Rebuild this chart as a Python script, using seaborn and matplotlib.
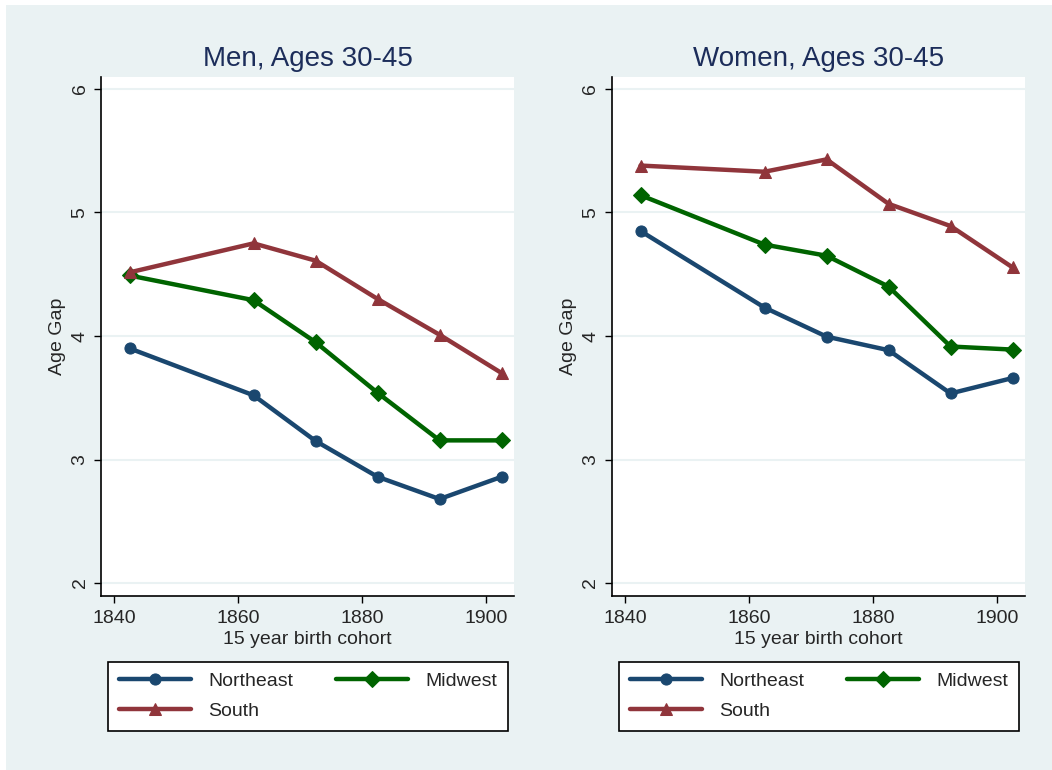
import pandas as pd
import seaborn as sns
import matplotlib.pyplot as plt
from matplotlib.patches import Rectangle

cohort = [1842.5, 1862.5, 1872.5, 1882.5, 1892.5, 1902.5]
regions = ["Northeast", "Midwest", "South"]

men_northeast = [3.90, 3.52, 3.15, 2.86, 2.68, 2.86]
men_midwest = [4.49, 4.29, 3.95, 3.54, 3.155, 3.155]
men_south = [4.515, 4.75, 4.61, 4.30, 4.01, 3.70]

women_northeast = [4.85, 4.23, 3.995, 3.885, 3.535, 3.66]
women_midwest = [5.14, 4.74, 4.65, 4.40, 3.915, 3.89]
women_south = [5.38, 5.33, 5.43, 5.07, 4.89, 4.555]

panel_titles = ["Men, Ages 30-45", "Women, Ages 30-45"]

rows = []
for panel, series in zip(panel_titles,
                         [[men_northeast, men_midwest, men_south],
                          [women_northeast, women_midwest, women_south]]):
    for reg, vals in zip(regions, series):
        for c, v in zip(cohort, vals):
            rows.append({"panel": panel, "region": reg, "cohort": c, "gap": v})
df = pd.DataFrame(rows)

sns.set_style("white")
plt.rcParams["font.family"] = ["Liberation Sans", "DejaVu Sans"]

palette = {"Northeast": "#1a476f", "Midwest": "#006400", "South": "#90353b"}
markers = {"Northeast": "o", "Midwest": "D", "South": "^"}
msize = {"Northeast": 8, "Midwest": 8, "South": 9}
bg = "#eaf2f3"

fig = plt.figure(figsize=(10.52, 7.7), dpi=100, facecolor="white")
fig.patches.append(Rectangle((6 / 1052, 0), 1 - 6 / 1052, 1 - 5 / 770,
                             transform=fig.transFigure, facecolor=bg,
                             edgecolor="none", zorder=-10))

lefts = [101 / 1052, 612 / 1052]
for left, title in zip(lefts, panel_titles):
    ax = fig.add_axes([left, 174 / 770, 413 / 1052, 519 / 770])
    ax.set_facecolor("white")
    sub = df[df["panel"] == title]
    for reg in regions:
        d = sub[sub["region"] == reg]
        sns.lineplot(data=d, x="cohort", y="gap", ax=ax, color=palette[reg],
                     marker=markers[reg], markersize=msize[reg],
                     markeredgecolor=palette[reg], linewidth=3.2, label=reg,
                     legend=False)
    ax.set_xlim(1837.9, 1904.5)
    ax.set_ylim(1.895, 6.097)
    ax.set_xticks([1840, 1860, 1880, 1900])
    ax.set_yticks([2, 3, 4, 5, 6])
    ax.yaxis.grid(True, color=bg, linewidth=1.5)
    ax.xaxis.grid(False)
    ax.set_axisbelow(True)
    for s in ["top", "right"]:
        ax.spines[s].set_visible(False)
    for s in ["left", "bottom"]:
        ax.spines[s].set_color("black")
        ax.spines[s].set_linewidth(1.2)
    ax.tick_params(axis="both", direction="out", length=5, width=1,
                   color="black", labelsize=14, bottom=True, left=True)
    ax.tick_params(axis="x", pad=5)
    ax.tick_params(axis="y", labelrotation=90, pad=4)
    for lab in ax.get_yticklabels():
        lab.set_va("center")
        lab.set_fontsize(14)
    ax.set_title(title, fontsize=20, color="#1c2d5a", pad=8)
    ax.set_xlabel("15 year birth cohort", fontsize=14, labelpad=3)
    ax.set_ylabel("Age Gap", fontsize=14, labelpad=4)

    handles, labels = ax.get_legend_handles_labels()
    order = [labels.index("Northeast"), labels.index("South"), labels.index("Midwest")]
    leg = ax.legend([handles[i] for i in order], [labels[i] for i in order],
                    loc="upper left", bbox_to_anchor=(0.017, -0.127, 0.969, 0),
                    mode="expand", ncol=2, borderaxespad=0, frameon=True,
                    fancybox=False, shadow=False, edgecolor="black",
                    fontsize=14, handlelength=3.7, handletextpad=0.9,
                    columnspacing=2.0, labelspacing=0.62, borderpad=0.55)
    leg.get_frame().set_linewidth(1.2)
    leg.get_frame().set_facecolor("white")
    leg.get_frame().set_alpha(1)

fig.savefig("out.png", dpi=100, facecolor=fig.get_facecolor())
